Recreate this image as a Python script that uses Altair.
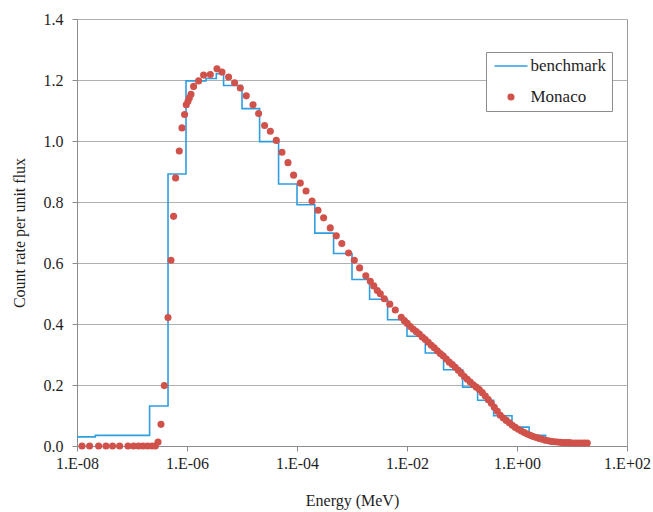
import json
import altair as alt
import pandas as pd

# Benchmark detector response: group boundaries (log10 of energy in MeV)
# and the count rate per unit flux in each group.
bench_edge_exp = [
    -8.0, -7.667, -6.68, -6.345, -6.018, -5.655, -5.467, -5.335, -5.0, -4.68,
    -4.335, -4.0, -3.676, -3.335, -3.0, -2.68, -2.353, -2.0, -1.667, -1.335,
    -0.989, -0.716, -0.425, -0.091, 0.22, 0.52, 0.82, 1.1, 1.32,
]
bench_rate = [
    0.030, 0.035, 0.131, 0.892, 1.197, 1.205, 1.221, 1.182, 1.106, 0.998,
    0.859, 0.791, 0.698, 0.631, 0.546, 0.481, 0.414, 0.360, 0.305, 0.250,
    0.193, 0.150, 0.099, 0.062, 0.035, 0.018, 0.010, 0.008,
]

# Monaco results: log10 of energy (MeV) and count rate per unit flux.
monaco_exp = [
    -7.909, -7.771, -7.607, -7.473, -7.353, -7.225, -7.073, -6.971, -6.880, -6.800,
    -6.716, -6.636, -6.576, -6.527, -6.473, -6.413, -6.345, -6.291, -6.244, -6.207,
    -6.140, -6.091, -6.044, -6.013, -5.982, -5.958, -5.927, -5.880, -5.789, -5.698,
    -5.576, -5.455, -5.364, -5.244, -5.135, -5.031, -4.922, -4.800, -4.698, -4.589,
    -4.485, -4.376, -4.273, -4.164, -4.062, -3.940, -3.836, -3.727, -3.618, -3.516,
    -3.395, -3.285, -3.185, -3.062, -2.958, -2.862, -2.749, -2.667, -2.604, -2.540,
    -2.485, -2.413, -2.313, -2.213, -2.104, -2.049, -1.995, -1.940, -1.885, -1.831,
    -1.776, -1.722, -1.667, -1.613, -1.558, -1.504, -1.449, -1.395, -1.340, -1.285,
    -1.231, -1.176, -1.122, -1.067, -1.013, -0.958, -0.904, -0.849, -0.795, -0.740,
    -0.685, -0.631, -0.576, -0.522, -0.467, -0.413, -0.358, -0.304, -0.249, -0.195,
    -0.140, -0.085, -0.031, 0.024, 0.078, 0.133, 0.187, 0.242, 0.296, 0.351,
    0.405, 0.460, 0.515, 0.569, 0.624, 0.678, 0.733, 0.787, 0.842, 0.896,
    0.951, 1.005, 1.060, 1.115, 1.169, 1.224, 1.278,
]
monaco_rate = [
    0.000, 0.000, 0.000, 0.000, 0.000, 0.000, 0.000, 0.000, 0.000, 0.000,
    0.000, 0.000, 0.000, 0.013, 0.071, 0.198, 0.421, 0.609, 0.753, 0.879,
    0.967, 1.043, 1.087, 1.119, 1.130, 1.141, 1.153, 1.179, 1.197, 1.216,
    1.218, 1.237, 1.226, 1.210, 1.191, 1.174, 1.148, 1.119, 1.090, 1.051,
    1.032, 1.002, 0.963, 0.929, 0.888, 0.862, 0.836, 0.803, 0.773, 0.748,
    0.715, 0.689, 0.664, 0.633, 0.609, 0.584, 0.558, 0.540, 0.525, 0.510,
    0.499, 0.483, 0.465, 0.446, 0.422, 0.411, 0.402, 0.392, 0.383, 0.375,
    0.367, 0.357, 0.349, 0.340, 0.330, 0.322, 0.312, 0.303, 0.295, 0.285,
    0.275, 0.267, 0.258, 0.248, 0.238, 0.228, 0.219, 0.210, 0.201, 0.193,
    0.185, 0.175, 0.164, 0.152, 0.140, 0.127, 0.114, 0.101, 0.092, 0.084,
    0.076, 0.068, 0.061, 0.055, 0.049, 0.044, 0.039, 0.035, 0.031, 0.028,
    0.025, 0.022, 0.019, 0.017, 0.015, 0.014, 0.013, 0.012, 0.011, 0.011,
    0.011, 0.010, 0.010, 0.010, 0.010, 0.010, 0.010,
]

x_tick_values = [1e-8, 1e-6, 1e-4, 1e-2, 1e0, 1e2]
x_tick_labels = ["1.E-08", "1.E-06", "1.E-04", "1.E-02", "1.E+00", "1.E+02"]
y_tick_values = [0.0, 0.2, 0.4, 0.6, 0.8, 1.0, 1.2, 1.4]

series_names = ["benchmark", "Monaco"]
series_colors = ["#2e9ee0", "#d0524b"]
# legend/marker glyphs: a short horizontal stroke and a small dot
series_shapes = [
    "M-3,0H3",
    "M-0.51,0A0.51,0.51,0,1,1,0.51,0A0.51,0.51,0,1,1,-0.51,0Z",
]

FONT = "Liberation Serif"
TEXT = "#1e1e1e"

bench = pd.DataFrame({
    "energy": [10 ** e for e in bench_edge_exp],
    "rate": bench_rate + [bench_rate[-1]],
    "series": "benchmark",
})
monaco = pd.DataFrame({
    "energy": [10 ** e for e in monaco_exp],
    "rate": monaco_rate,
    "series": "Monaco",
})

label_expr = (
    json.dumps(x_tick_labels)
    + "[round(log(datum.value) / LN10 / 2) + 4]"
)

x_enc = alt.X(
    "energy:Q",
    scale=alt.Scale(type="log", domain=[1e-8, 1e2], nice=False),
    axis=alt.Axis(
        values=x_tick_values,
        labelExpr=label_expr,
        labelFlush=False,
        labelOverlap=False,
        grid=False,
        tickSize=5,
        labelPadding=4,
        titlePadding=21,
        title="Energy (MeV)",
    ),
)
y_enc = alt.Y(
    "rate:Q",
    scale=alt.Scale(domain=[0, 1.4], nice=False, zero=True),
    axis=alt.Axis(
        values=y_tick_values,
        format=".1f",
        grid=True,
        tickSize=5,
        labelPadding=9,
        titlePadding=16,
        title="Count rate per unit flux",
    ),
)

legend = alt.Legend(
    title=None,
    orient="none",
    legendX=409,
    legendY=33,
    padding=5.5,
    rowPadding=13,
    symbolSize=121,
    symbolOffset=11,
    symbolStrokeWidth=1.5,
    labelOffset=11,
    labelFont=FONT,
    labelFontSize=17,
    labelColor=TEXT,
    labelLimit=200,
    strokeColor="#8c8c8c",
    fillColor="white",
)

color_scale = alt.Scale(domain=series_names, range=series_colors)
shape_scale = alt.Scale(domain=series_names, range=series_shapes)

bench_line = alt.Chart(bench).mark_line(
    interpolate="step-after", strokeWidth=1.6
).encode(
    x=x_enc,
    y=y_enc,
    color=alt.Color("series:N", scale=color_scale, legend=legend),
)

monaco_pts = alt.Chart(monaco).mark_point(
    filled=True, size=121, strokeWidth=1.5, opacity=1
).encode(
    x=x_enc,
    y=y_enc,
    color=alt.Color("series:N", scale=color_scale, legend=legend),
    stroke=alt.Stroke("series:N", scale=color_scale, legend=legend),
    shape=alt.Shape("series:N", scale=shape_scale, legend=legend),
)

chart = (
    alt.layer(bench_line, monaco_pts)
    .properties(
        width=550,
        height=427,
        autosize=alt.AutoSizeParams(type="none"),
        padding={"left": 77, "top": 19, "right": 26, "bottom": 66},
        background="white",
    )
    .configure_view(stroke="#9a9a9a", strokeWidth=1)
    .configure_axis(
        labelFont=FONT,
        titleFont=FONT,
        labelFontSize=16,
        titleFontSize=16,
        labelColor=TEXT,
        titleColor=TEXT,
        titleFontWeight="normal",
        domainColor="#8c8c8c",
        tickColor="#8c8c8c",
        gridColor="#b0b0b0",
        gridWidth=1,
    )
)

chart.save("out.html", embed_options={"renderer": "svg", "actions": False})
